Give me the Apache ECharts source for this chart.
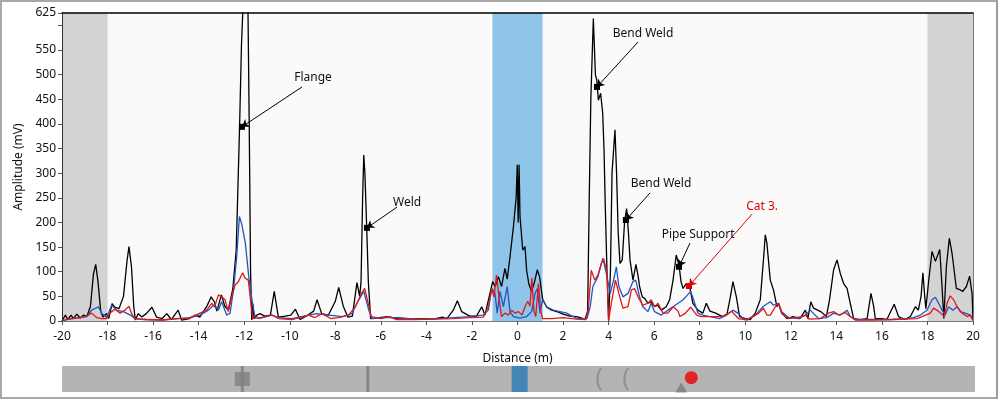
<!DOCTYPE html>
<html><head><meta charset="utf-8">
<script src="https://cdn.jsdelivr.net/npm/echarts@6/dist/echarts.min.js"></script>
<style>
html,body{margin:0;padding:0;background:#fff;}
#wrap{position:relative;width:998px;height:399px;}
#chart{position:absolute;left:0;top:0;width:998px;height:399px;}
#frame{position:absolute;left:0;top:0;width:994px;height:395px;border:2px solid #a8a8a8;border-right-color:#9c9c9c;pointer-events:none;}
</style></head>
<body><div id="wrap"><div id="chart"></div><div id="frame"></div></div>
<script>
// ---- data ----
const xTicks = [-20,-18,-16,-14,-12,-10,-8,-6,-4,-2,0,2,4,6,8,10,12,14,16,18,20];
const blackX = [-20.0,-19.85,-19.75,-19.6,-19.5,-19.35,-19.2,-19.05,-18.9,-18.75,-18.62,-18.52,-18.42,-18.3,-18.2,-18.05,-17.95,-17.8,-17.68,-17.5,-17.3,-17.15,-17.06,-16.95,-16.85,-16.78,-16.65,-16.5,-16.3,-16.05,-15.85,-15.6,-15.4,-15.2,-14.9,-14.75,-14.4,-14.15,-13.95,-13.65,-13.45,-13.3,-13.2,-13.0,-12.85,-12.7,-12.5,-12.35,-12.2,-12.12,-12.0,-11.85,-11.78,-11.72,-11.67,-11.62,-11.57,-11.45,-11.3,-11.1,-10.85,-10.68,-10.5,-10.2,-9.95,-9.75,-9.55,-9.2,-8.95,-8.8,-8.6,-8.3,-8.0,-7.85,-7.65,-7.45,-7.25,-7.05,-6.93,-6.87,-6.8,-6.75,-6.7,-6.62,-6.55,-6.45,-6.2,-5.9,-5.66,-5.3,-4.8,-4.2,-3.7,-3.3,-3.1,-2.82,-2.64,-2.45,-2.1,-1.8,-1.57,-1.43,-1.21,-1.09,-0.98,-0.84,-0.7,-0.55,-0.45,-0.33,-0.18,-0.06,-0.01,0.03,0.07,0.11,0.23,0.33,0.4,0.5,0.62,0.75,0.87,0.97,1.1,1.28,1.5,1.8,2.0,2.3,2.6,2.97,3.08,3.15,3.22,3.33,3.42,3.48,3.55,3.65,3.74,3.8,3.85,3.93,4.0,4.08,4.15,4.28,4.35,4.42,4.5,4.6,4.7,4.79,4.87,4.94,5.07,5.2,5.3,5.36,5.48,5.6,5.73,5.87,6.02,6.15,6.31,6.53,6.68,6.83,6.97,7.05,7.1,7.18,7.27,7.41,7.56,7.7,7.92,8.14,8.29,8.45,8.7,9.0,9.2,9.35,9.46,9.61,9.75,10.0,10.22,10.44,10.66,10.81,10.88,10.95,11.1,11.24,11.39,11.46,11.61,11.83,12.1,12.4,12.64,12.75,12.88,13.0,13.18,13.35,13.56,13.7,13.88,14.03,14.17,14.32,14.47,14.61,14.76,15.05,15.35,15.52,15.64,15.71,16.0,16.22,16.54,16.73,17.0,17.25,17.47,17.6,17.72,17.8,17.88,17.93,18.05,18.2,18.35,18.54,18.64,18.72,18.83,18.96,19.08,19.27,19.44,19.55,19.71,19.85,19.96,20.0];
const blackY = [0,12,3,12,5,14,6,12,10,30,95,115,80,20,8,15,5,35,28,25,50,120,151,110,30,2,15,8,15,28,8,5,15,3,22,2,5,12,8,29,49,38,20,53,30,22,65,144,400,560,700,700,400,100,2,35,5,12,15,10,12,60,8,10,12,24,3,12,20,43,15,12,40,68,30,8,10,78,50,80,250,337,300,188,80,5,6,8,9,5,4,5,4,8,5,22,41,19,10,10,29,12,56,80,70,90,70,107,85,130,191,250,317,200,317,212,144,151,103,75,60,80,104,90,45,28,22,18,14,10,9,4,20,250,450,614,500,489,448,462,422,347,240,100,2,100,300,388,300,180,117,124,200,228,180,124,83,115,90,70,49,45,36,39,29,32,22,29,43,83,134,120,110,80,66,76,70,36,22,16,36,20,16,9,14,50,80,49,9,5,3,16,43,131,175,158,83,63,29,36,16,5,9,5,22,5,39,26,22,18,9,43,104,124,97,76,66,36,5,3,5,56,29,5,5,3,34,9,3,9,29,22,50,98,50,25,80,141,121,145,70,5,110,168,137,66,63,60,70,91,55,2];
const blueX = [-20.0,-19.65,-19.2,-18.9,-18.7,-18.4,-18.26,-18.04,-17.82,-17.6,-17.3,-17.0,-16.8,-16.3,-15.6,-14.96,-14.4,-13.94,-13.57,-13.35,-13.13,-12.99,-12.77,-12.62,-12.47,-12.33,-12.21,-12.1,-11.95,-11.8,-11.66,-11.54,-11.36,-10.78,-10.5,-9.9,-9.17,-8.8,-8.29,-7.7,-7.27,-7.05,-6.75,-6.53,-6.39,-5.8,-5.2,-4.5,-3.75,-2.82,-2.09,-1.5,-1.28,-1.13,-0.99,-0.89,-0.77,-0.62,-0.45,-0.33,-0.18,0.1,0.4,0.62,0.77,0.87,0.99,1.1,1.28,1.57,2.16,2.6,3.05,3.19,3.31,3.53,3.75,3.93,4.07,4.22,4.34,4.45,4.63,4.85,5.07,5.19,5.36,5.5,5.73,5.87,6.02,6.31,6.6,6.83,7.05,7.27,7.45,7.6,7.72,7.92,8.14,8.44,8.88,9.17,9.46,9.68,9.9,10.07,10.44,10.8,11.1,11.24,11.46,11.6,11.9,12.34,12.64,12.86,13.0,13.22,13.59,13.88,14.17,14.47,14.61,14.83,15.64,16.37,17.1,17.39,17.69,17.98,18.2,18.35,18.49,18.64,18.78,18.93,19.12,19.3,19.44,19.66,19.88,20.0];
const blueY = [0,5,7,9,22,29,16,7,32,22,19,12,5,3,2,5,7,12,22,32,22,39,12,16,63,130,212,195,158,90,43,12,5,12,7,5,12,15,12,9,15,36,60,22,5,7,7,4,4,7,9,12,22,66,56,16,60,29,70,19,9,6,9,19,56,66,16,43,29,22,16,5,5,29,70,90,127,90,56,83,110,70,49,56,80,83,49,29,19,36,19,12,22,29,36,43,52,60,45,16,12,9,5,12,22,16,5,3,12,30,39,32,36,19,7,5,12,22,15,5,7,16,12,22,9,3,3,3,5,7,12,22,43,48,36,22,12,29,22,29,19,16,12,2];
const redX = [-20.0,-19.8,-19.2,-18.84,-18.7,-18.48,-18.26,-18.05,-17.9,-17.67,-17.45,-17.23,-17.06,-16.94,-16.8,-16.4,-15.6,-14.9,-14.52,-14.23,-13.94,-13.65,-13.43,-13.3,-13.13,-12.99,-12.84,-12.7,-12.55,-12.4,-12.25,-12.07,-11.96,-11.82,-11.72,-11.62,-11.3,-10.78,-10.5,-9.9,-9.17,-8.9,-8.58,-8.2,-7.85,-7.41,-7.12,-6.85,-6.71,-6.56,-6.42,-6.0,-5.66,-5.3,-4.5,-3.75,-2.82,-2.09,-1.5,-1.28,-1.13,-1.03,-0.92,-0.8,-0.7,-0.55,-0.4,-0.26,-0.11,0.04,0.2,0.33,0.45,0.55,0.63,0.72,0.8,0.92,1.02,1.1,1.5,2.0,2.6,3.0,3.1,3.24,3.39,3.53,3.68,3.78,3.93,4.0,4.12,4.3,4.45,4.63,4.85,5.0,5.14,5.29,5.5,5.73,5.87,6.02,6.17,6.39,6.6,6.84,7.05,7.13,7.35,7.6,7.87,8.07,8.5,9.0,9.18,9.4,9.7,10.1,10.59,10.8,10.95,11.1,11.32,11.46,11.6,11.9,12.49,12.64,12.8,13.3,13.66,13.88,14.1,14.39,14.6,14.83,15.5,16.5,17.54,17.76,18.13,18.27,18.42,18.57,18.74,18.86,19.0,19.15,19.3,19.52,19.74,19.88,20.0];
const redY = [0,3,7,12,16,7,5,5,16,24,16,22,30,15,5,3,2,5,5,9,16,22,36,29,53,49,43,19,49,73,80,98,87,83,41,5,7,12,5,3,12,7,15,5,7,12,29,56,66,36,9,5,9,3,3,4,5,7,8,29,66,49,93,43,9,16,12,22,16,19,12,29,40,30,87,20,9,76,20,5,5,7,4,3,20,103,83,93,117,127,97,0,36,83,56,26,29,63,66,49,32,36,43,29,36,16,16,29,20,9,15,28,12,9,9,9,12,20,5,2,16,26,12,12,29,36,15,5,9,12,4,5,16,19,12,17,9,2,2,3,5,9,16,26,22,16,9,36,51,43,29,16,9,12,1];

// annotation texts, their label anchor and the marked point (data coordinates)
const annoText   = ['Flange','Weld','Bend Weld','Bend Weld','Pipe Support','Cat 3.'];
const annoLabelX = [-8.98,-4.85,5.51,6.3,7.93,10.74];
const annoLabelY = [493,241,584,278,176,233];
const annoFromX  = [-9.46,-5.29,5.29,5.82,7.57,10.3];
const annoFromY  = [475,231,566,260,158,217];
const annoPtX    = [-12.1,-6.61,3.49,4.76,7.09,7.53];
const annoPtY    = [394,189,475,205,110,71];
const annoRed    = [false,false,false,false,false,true];

// shaded zones
const greyZones = [[-20,-18],[18,20]];
const blueZone = [-1.1,1.1];

// overview strip items (distance positions)
const stripSquareX = [-12.1];
const stripLineX = [-12.1,-6.6];
const stripBlueX = [0.05];
const stripBendX = [3.53,4.72];
const stripTriX = [7.13];
const stripDotX = [7.57];

// ---- build ----
const zip = (xs, ys) => xs.map((x,i)=>[x, ys[i]]);
const FONT = "'Segoe UI','Noto Sans',sans-serif";
const chart = echarts.init(document.getElementById('chart'), null, {renderer:'canvas'});

const markAreaData = greyZones.map(z=>[{xAxis:z[0], itemStyle:{color:'#d3d3d3'}},{xAxis:z[1]}]);
markAreaData.push([{xAxis:blueZone[0], itemStyle:{color:'#8ec5e8'}},{xAxis:blueZone[1]}]);

const mlData = annoText.map((t,i)=>[
  {coord:[annoFromX[i],annoFromY[i]], symbol:'none', lineStyle:{color: annoRed[i]?'#e00000':'#000'}},
  {coord:[annoPtX[i],annoPtY[i]], symbol:'arrow'}
]);
const mpPoints = annoText.map((t,i)=>({coord:[annoPtX[i],annoPtY[i]], symbol:'rect', symbolSize:6,
  itemStyle:{color: annoRed[i]?'#e00000':'#000'}, label:{show:false}}));
const mpLabels = annoText.map((t,i)=>({coord:[annoLabelX[i],annoLabelY[i]], symbol:'circle', symbolSize:1,
  itemStyle:{color:'rgba(0,0,0,0)'},
  label:{show:true, position:'inside', formatter:t, color: annoRed[i]?'#e00000':'#111', fontSize:12, fontFamily:FONT}}));

const option = {
  animation:false,
  backgroundColor:'#ffffff',
  grid:[
    {left:62, right:25, top:13, bottom:78, show:true, backgroundColor:'#fafafa', borderWidth:0},
    {left:62, right:23, top:366, height:26, show:true, backgroundColor:'#b4b4b4', borderWidth:0}
  ],
  xAxis:[
    {type:'value', gridIndex:0, min:-20, max:20, interval:2, z:20,
     name:'Distance (m)', nameLocation:'middle', nameGap:32,
     nameTextStyle:{fontSize:12, color:'#111', fontFamily:FONT},
     axisLine:{show:true, onZero:false, lineStyle:{color:'#7a7a7a', width:1}},
     axisTick:{show:true, length:4, lineStyle:{color:'#555'}},
     axisLabel:{fontSize:12, color:'#111', fontFamily:FONT, margin:10, showMinLabel:true, showMaxLabel:true},
     splitLine:{show:false}},
    {type:'value', gridIndex:0, position:'top', min:-20, max:20, z:20,
     axisLine:{show:true, onZero:false, lineStyle:{color:'#000', width:1.5}}, axisTick:{show:false}, axisLabel:{show:false}, splitLine:{show:false}},
    {type:'value', gridIndex:1, min:-20, max:20, show:false}
  ],
  yAxis:[
    {type:'value', gridIndex:0, min:0, max:625, interval:50, z:20, position:'left',
     name:'Amplitude (mV)', nameLocation:'middle', nameGap:34, nameRotate:90,
     nameTextStyle:{fontSize:12, color:'#111', fontFamily:FONT},
     axisLine:{show:true, onZero:false, lineStyle:{color:'#333', width:1}},
     axisTick:{show:true, length:4, lineStyle:{color:'#555'}},
     axisLabel:{fontSize:12, color:'#111', fontFamily:FONT, margin:6, showMaxLabel:true,
       formatter:v=> (v===600?'':String(v))},
     splitLine:{show:false}},
    {type:'value', gridIndex:0, position:'right', min:0, max:625, z:20,
     axisLine:{show:true, onZero:false, lineStyle:{color:'#777', width:1}}, axisTick:{show:false}, axisLabel:{show:false}, splitLine:{show:false}},
    {type:'value', gridIndex:1, min:0, max:1, show:false}
  ],
  series:[
    {type:'line', xAxisIndex:0, yAxisIndex:0, data:[], z:1, silent:true,
     markArea:{silent:true, data:markAreaData}},
    {name:'Black', type:'line', xAxisIndex:0, yAxisIndex:0, data:zip(blackX,blackY), showSymbol:false, symbol:'none',
     lineStyle:{color:'#000', width:1.3}, z:3, clip:true},
    {name:'Blue', type:'line', xAxisIndex:0, yAxisIndex:0, data:zip(blueX,blueY), showSymbol:false, symbol:'none',
     lineStyle:{color:'#1f55c8', width:1.3}, z:4, clip:true},
    {name:'Red', type:'line', xAxisIndex:0, yAxisIndex:0, data:zip(redX,redY), showSymbol:false, symbol:'none',
     lineStyle:{color:'#e01818', width:1.3}, z:5, clip:true},
    {type:'line', xAxisIndex:0, yAxisIndex:0, data:[], z:10, silent:true,
     markLine:{silent:true, symbolSize:7, precision:3, label:{show:false}, lineStyle:{type:'solid', width:1, color:'#000'}, data:mlData},
     markPoint:{silent:true, data:mpPoints.concat(mpLabels)}},
    // overview strip
    {type:'scatter', xAxisIndex:2, yAxisIndex:2, silent:true, z:2,
     data:stripLineX.map(x=>[x,0.5]), symbol:'rect', symbolSize:[3,26], itemStyle:{color:'#7c7c7c'}},
    {type:'scatter', xAxisIndex:2, yAxisIndex:2, silent:true, z:3,
     data:stripSquareX.map(x=>[x,0.5]), symbol:'rect', symbolSize:[15,14], itemStyle:{color:'#808080'}},
    {type:'scatter', xAxisIndex:2, yAxisIndex:2, silent:true, z:3,
     data:stripBlueX.map(x=>[x,0.5]), symbol:'rect', symbolSize:[16,26], itemStyle:{color:'#2a7ab8'}},
    {type:'scatter', xAxisIndex:2, yAxisIndex:2, silent:true, z:3,
     data:stripBendX.map(x=>[x,0.5]), symbol:'circle', symbolSize:1, itemStyle:{color:'rgba(0,0,0,0)'},
     label:{show:true, position:'inside', formatter:'(', fontSize:26, color:'#8a8a8a', fontFamily:FONT}},
    {type:'scatter', xAxisIndex:2, yAxisIndex:2, silent:true, z:3,
     data:stripTriX.map(x=>[x,0.17]), symbol:'triangle', symbolSize:[12,10], itemStyle:{color:'#7c7c7c'}},
    {type:'scatter', xAxisIndex:2, yAxisIndex:2, silent:true, z:4,
     data:stripDotX.map(x=>[x,0.55]), symbol:'circle', symbolSize:13, itemStyle:{color:'#f00000'}}
  ]
};
chart.setOption(option);
</script></body></html>
